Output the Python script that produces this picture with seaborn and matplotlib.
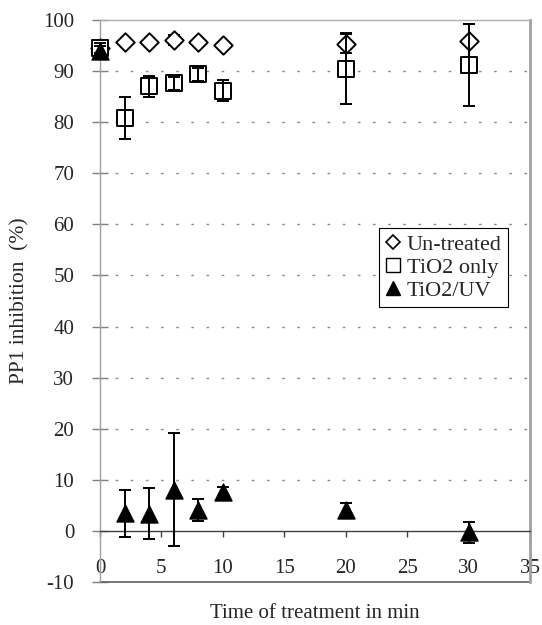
import matplotlib
matplotlib.use("Agg")
import matplotlib.pyplot as plt
from matplotlib.lines import Line2D
import seaborn as sns
import pandas as pd

# ---- data ----
time = [0, 2, 4, 6, 8, 10, 20, 30]
untreated = [94.5, 95.6, 95.6, 96.1, 95.6, 95.2, 95.4, 95.8]
untreated_err = [0.6, 0.3, 0.3, 1.0, 0.3, 0.3, 1.8, 3.5]
tio2_only = [94.5, 80.9, 87.0, 87.6, 89.4, 86.2, 90.5, 91.2]
tio2_only_err = [1.0, 4.1, 2.0, 1.3, 1.3, 2.1, 7.0, 8.0]
tio2_uv = [94.0, 3.5, 3.4, 8.1, 4.1, 7.7, 4.0, -0.3]
tio2_uv_err = [1.0, 4.6, 5.0, 11.0, 2.2, 0.8, 1.5, 2.0]
series_names = ["Un-treated", "TiO2 only", "TiO2/UV"]
x_ticks = [0, 5, 10, 15, 20, 25, 30, 35]
y_ticks = [-10, 0, 10, 20, 30, 40, 50, 60, 70, 80, 90, 100]

sns.set_theme(style="white")
plt.rcParams["font.family"] = ["Liberation Serif", "DejaVu Serif"]

fig = plt.figure(figsize=(5.42, 6.25), dpi=100)
ax = fig.add_axes([100 / 542, 1 - 582 / 625, 430 / 542, 562 / 625])

styles = [
    dict(marker="D", s=88, fc="white", lw=1.4, err_on_top=False),
    dict(marker="s", s=120, fc="white", lw=1.4, err_on_top=True),
    dict(marker="^", s=150, fc="black", lw=1.0, err_on_top=True),
]
vals = [untreated, tio2_only, tio2_uv]
errs = [untreated_err, tio2_only_err, tio2_uv_err]

z = 3
for name, v, e, st in zip(series_names, vals, errs, styles):
    df = pd.DataFrame({"time": time, "value": v})
    sns.scatterplot(data=df, x="time", y="value", marker=st["marker"], s=st["s"],
                    color=st["fc"], edgecolor="black", linewidth=st["lw"],
                    ax=ax, zorder=z + 1, legend=False, clip_on=False)
    ez = z + 2 if st["err_on_top"] else z
    ax.errorbar(time, v, yerr=e, fmt="none", ecolor="black", elinewidth=1.4,
                capsize=4.6, capthick=1.4, zorder=ez, clip_on=False)
    z += 3

ax.set_xlim(0, 35)
ax.set_ylim(-10, 100)
ax.set_xticks(x_ticks)
ax.set_yticks(y_ticks)
ax.set_yticklabels([str(t) for t in y_ticks])
ax.set_xticklabels([str(t) for t in x_ticks])

# grid lines (dashed) at 10..90
for yv in range(10, 100, 10):
    ax.axhline(yv, color="#8c8c8c", lw=1.0, dashes=(1.9, 9.0), zorder=1)

# spines
ax.spines["bottom"].set_position(("data", 0))
ax.spines["bottom"].set_color("#404040")
ax.spines["bottom"].set_linewidth(1.0)
ax.spines["left"].set_color("#a0a0a0")
ax.spines["left"].set_linewidth(1.0)
ax.spines["top"].set_color("#b0b0b0")
ax.spines["top"].set_linewidth(1.0)
ax.spines["right"].set_color("#a0a0a0")
ax.spines["right"].set_linewidth(2.0)
ax.axhline(-10, color="#606060", lw=1.2, zorder=2, clip_on=False)

ax.tick_params(axis="x", direction="out", length=4.5, width=1.0, color="#404040",
               labelsize=15, pad=16, bottom=True)
ax.tick_params(axis="y", direction="inout", length=11, width=1.0, color="#808080",
               labelsize=15, pad=13, left=True)

ax.set_xlabel("Time of treatment in min", fontsize=15)
ax.xaxis.set_label_coords(0.5, -0.04)
ax.set_ylabel("PP1 inhibition  (%)", fontsize=15.5)
ax.yaxis.set_label_coords(-0.165, 0.5)

handles = [
    Line2D([], [], marker="D", linestyle="none", markerfacecolor="white",
           markeredgecolor="black", markeredgewidth=1.2, markersize=7.5),
    Line2D([], [], marker="s", linestyle="none", markerfacecolor="white",
           markeredgecolor="black", markeredgewidth=1.0, markersize=9.5),
    Line2D([], [], marker="^", linestyle="none", markerfacecolor="black",
           markeredgecolor="black", markersize=9.5),
]
leg = ax.legend(handles, series_names, loc="upper left",
                bbox_to_anchor=((379 - 100) / 430, (582 - 228) / 562),
                fontsize=16, frameon=True, fancybox=False, framealpha=1,
                edgecolor="black", handlelength=0.7, handletextpad=0.25,
                borderpad=0.3, labelspacing=0.1, borderaxespad=0)
leg.get_frame().set_linewidth(0.8)

fig.savefig("out.png", dpi=100, facecolor="white")
